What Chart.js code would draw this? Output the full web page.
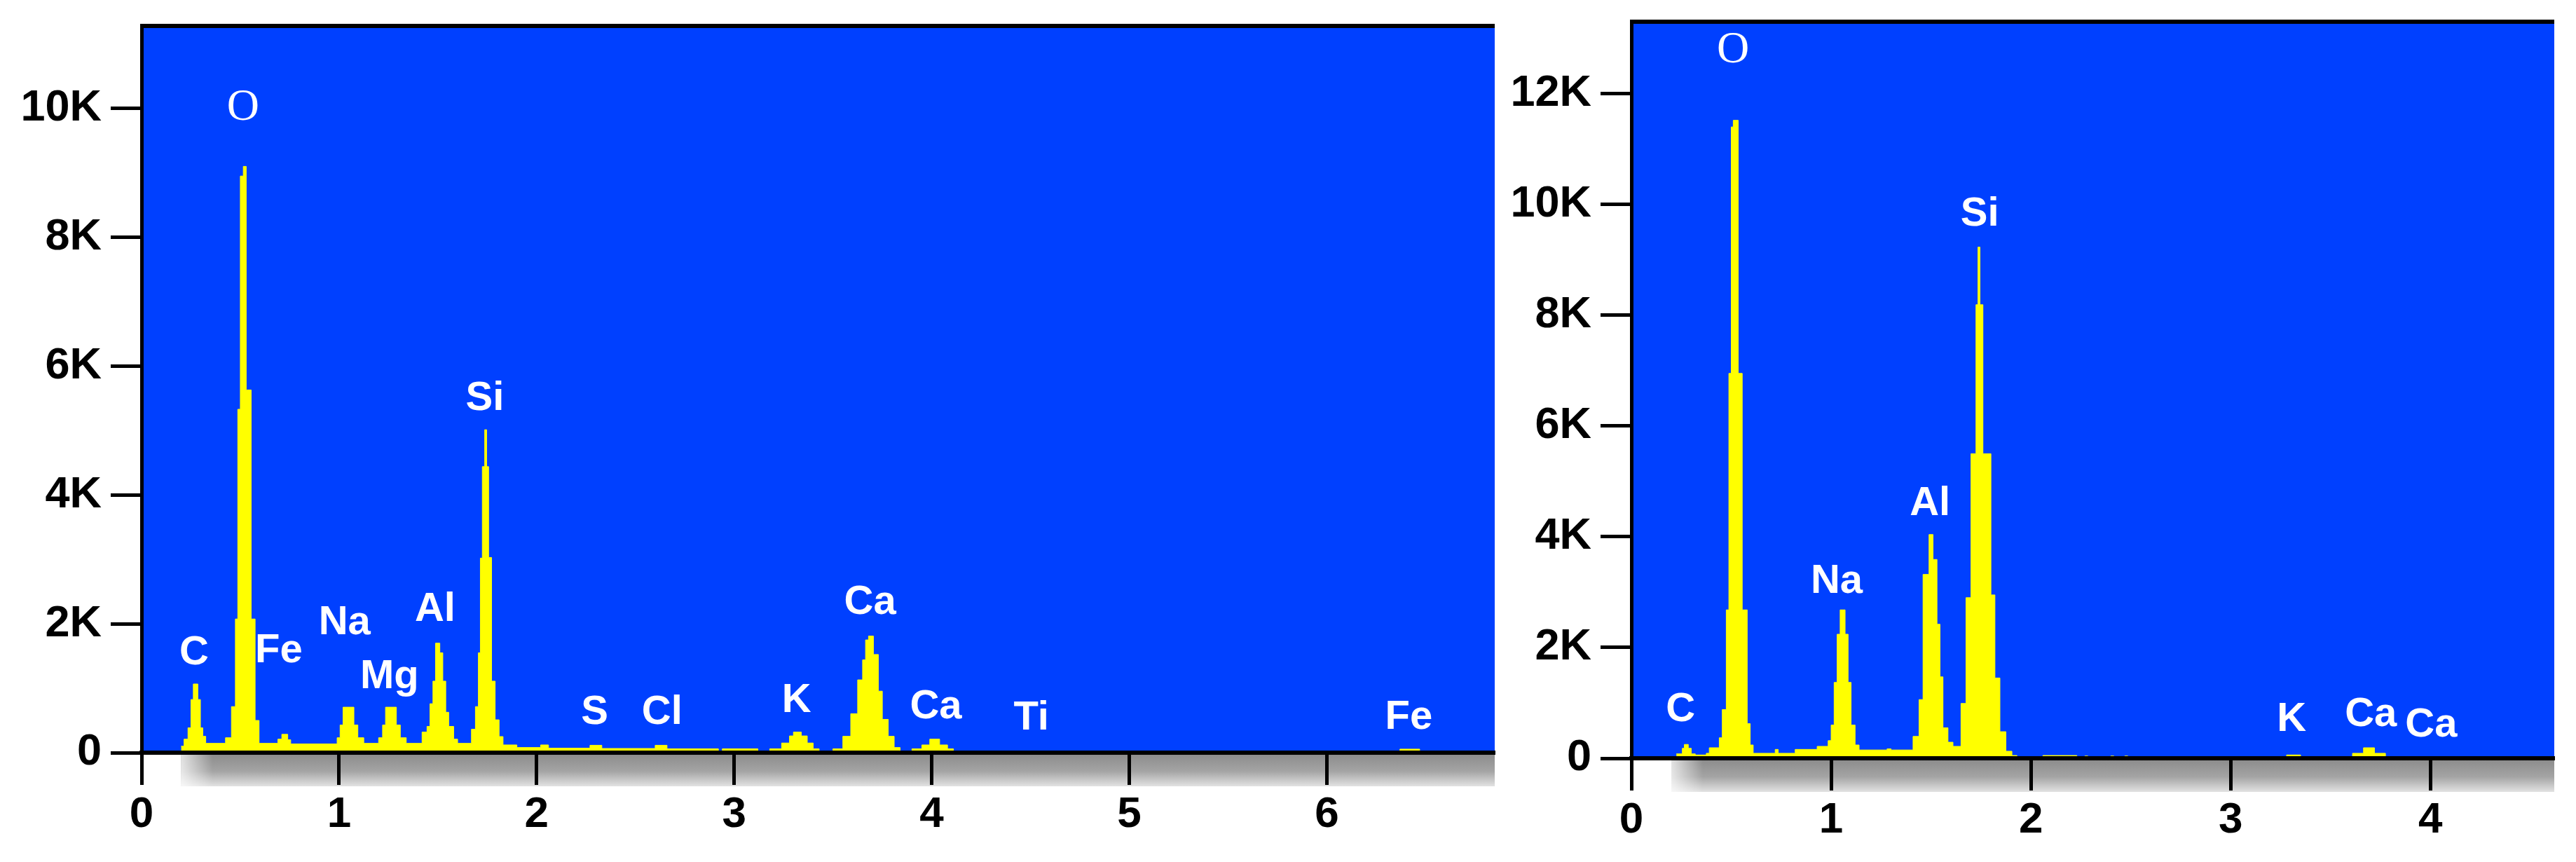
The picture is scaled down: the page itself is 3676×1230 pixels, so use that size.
<!DOCTYPE html>
<html>
<head>
<meta charset="utf-8">
<script src="https://cdn.jsdelivr.net/npm/chart.js@4/dist/chart.umd.min.js"></script>
<style>
  html, body { margin: 0; padding: 0; background: #fff; }
  body { width: 3676px; height: 1230px; position: relative; overflow: hidden; }
  .panel { position: absolute; top: 0; height: 1230px; }
  #left { left: 0; width: 2140px; }
  #right { left: 2140px; width: 1536px; }
</style>
</head>
<body>
<div class="panel" id="left"><canvas id="edsLeft" width="2140" height="1230"></canvas></div>
<div class="panel" id="right"><canvas id="edsRight" width="1536" height="1230"></canvas></div>
<script>
// left spectrum: channel start (keV) and counts
const leftEnergy = [
  0.2, 0.215, 0.235, 0.25, 0.262, 0.285, 0.298, 0.31, 0.325,
  0.425, 0.455, 0.475, 0.487, 0.5, 0.515, 0.53, 0.555, 0.575, 0.595,
  0.69, 0.71, 0.74, 0.755,
  0.99, 1.005, 1.02, 1.075, 1.095, 1.125,
  1.2, 1.22, 1.235, 1.29, 1.31, 1.34,
  1.42, 1.445, 1.46, 1.475, 1.488, 1.51, 1.525, 1.54, 1.555, 1.58, 1.6,
  1.67, 1.69, 1.705, 1.715, 1.725, 1.737, 1.747, 1.757, 1.772, 1.79, 1.81, 1.83, 1.9,
  2.02, 2.06, 2.27, 2.33, 2.6, 2.66, 2.92, 2.94, 3.12,
  3.18, 3.24, 3.28, 3.3, 3.34, 3.37, 3.4, 3.43,
  3.5, 3.55, 3.59, 3.625, 3.65, 3.665, 3.68, 3.705, 3.73, 3.75, 3.78, 3.81, 3.84,
  3.9, 3.95, 3.99, 4.04, 4.08, 4.11,
  6.37, 6.47, 6.85
];
const leftCounts = [
  100, 210, 386, 825, 1066, 825, 386, 254, 145,
  232, 715, 2075, 5330, 8950, 9100, 5630, 2075, 500, 145,
  210, 285, 200, 136,
  232, 430, 706, 430, 232, 145,
  232, 430, 706, 430, 232, 145,
  320, 408, 760, 1110, 1700, 1550, 1110, 627, 408, 210, 145,
  364, 715, 1550, 3020, 4440, 5013, 4440, 3030, 1110, 510, 250, 120, 80,
  120, 70, 115, 65, 115, 60, 0, 60, 0,
  60, 150, 260, 320, 260, 150, 60, 0,
  60, 254, 605, 1130, 1440, 1750, 1810, 1524, 955, 517, 254, 80, 0,
  60, 120, 210, 120, 60, 0,
  55, 0, 0
];
const leftPeakNames = ["O", "C", "Fe", "Na", "Mg", "Al", "Si", "S", "Cl", "K", "Ca", "Ca", "Ti", "Fe"];
const leftPeakKeV = [0.514, 0.266, 0.695, 1.028, 1.255, 1.486, 1.738, 2.294, 2.635, 3.316, 3.688, 4.021, 4.504, 6.415];
const leftPeakCounts = [10000, 1545, 1577, 2012, 1175, 2218, 5492, 620, 620, 805, 2327, 707, 533, 544];
const leftKeVTicks = [0, 1, 2, 3, 4, 5, 6];
const leftCountTicks = [0, 2000, 4000, 6000, 8000, 10000];
const leftMaxKeV = 6.85;
const leftMaxCounts = 11280;

// right spectrum
const rightEnergy = [
  0.225, 0.255, 0.265, 0.285, 0.3, 0.32, 0.375,
  0.39, 0.44, 0.455, 0.475, 0.488, 0.5, 0.51, 0.535, 0.555, 0.58, 0.595, 0.61,
  0.72, 0.735, 0.82, 0.93,
  0.985, 1.0, 1.015, 1.03, 1.045, 1.07, 1.085, 1.1, 1.12, 1.14,
  1.28, 1.3,
  1.41, 1.44, 1.46, 1.49, 1.51, 1.53, 1.545, 1.56, 1.585, 1.61,
  1.65, 1.675, 1.7, 1.725, 1.735, 1.745, 1.76, 1.8, 1.82, 1.845, 1.875, 1.905, 1.93,
  2.06, 2.23, 2.27, 2.285, 2.4, 2.415, 2.47, 2.485,
  3.28, 3.35, 3.61, 3.665, 3.72, 3.775, 4.62
];
const rightCounts = [
  80, 180, 250, 180, 80, 60, 90,
  190, 370, 880, 2680, 6950, 11400, 11520, 6950, 2680, 625, 240, 90,
  160, 90, 160, 215,
  318, 600, 1370, 2240, 2680, 2240, 1370, 600, 240, 150,
  170, 150,
  395, 1060, 3320, 4040, 3590, 2420, 1470, 550, 290, 215,
  990, 2900, 5500, 8190, 9230, 8190, 5500, 2950, 1450, 480, 127, 50, 0,
  50, 0, 40, 0, 40, 0, 40, 0,
  60, 0, 90, 190, 90, 0, 0
];
const rightPeakNames = ["O", "C", "Na", "Al", "Si", "K", "Ca", "Ca"];
const rightPeakKeV = [0.509, 0.246, 1.028, 1.495, 1.744, 3.305, 3.702, 4.004];
const rightPeakCounts = [12785, 873, 3190, 4595, 9823, 696, 785, 595];
const rightKeVTicks = [0, 1, 2, 3, 4];
const rightCountTicks = [0, 2000, 4000, 6000, 8000, 10000, 12000];
const rightMaxKeV = 4.62;
const rightMaxCounts = 13300;

Chart.defaults.font.family = "'Liberation Sans', Arial, sans-serif";

// blue plot area, grey strip under the energy axis, top frame and peak labels
const edsPlugin = {
  id: "eds",
  beforeDraw(chart) {
    const { ctx, chartArea: a, scales } = chart;
    ctx.save();
    ctx.fillStyle = "#0040ff";
    ctx.fillRect(a.left, a.top, a.right - a.left, a.bottom - a.top);
    const x0 = scales.x.getPixelForValue(0.2);
    const g = ctx.createLinearGradient(0, a.bottom, 0, a.bottom + 48);
    g.addColorStop(0, "#8a8a8a");
    g.addColorStop(0.55, "#a4a4a4");
    g.addColorStop(1, "#e2e2e2");
    ctx.fillStyle = g;
    ctx.fillRect(x0, a.bottom, a.right - x0, 48);
    const h = ctx.createLinearGradient(x0, 0, x0 + 45, 0);
    h.addColorStop(0, "rgba(255,255,255,0.75)");
    h.addColorStop(1, "rgba(255,255,255,0)");
    ctx.fillStyle = h;
    ctx.fillRect(x0, a.bottom, 45, 48);
    ctx.restore();
  },
  afterDatasetsDraw(chart, args, opts) {
    const { ctx, chartArea: a, scales } = chart;
    ctx.save();
    ctx.strokeStyle = "#000";
    ctx.lineWidth = 6;
    ctx.beginPath();
    ctx.moveTo(a.left - 2, a.top);
    ctx.lineTo(a.right, a.top);
    ctx.stroke();
    ctx.fillStyle = "#fff";
    ctx.textAlign = "center";
    ctx.textBaseline = "middle";
    opts.names.forEach((name, i) => {
      ctx.font = name === "O" ? "64px 'Liberation Serif', serif" : "bold 58px 'Liberation Sans', Arial, sans-serif";
      ctx.fillText(name, scales.x.getPixelForValue(opts.keV[i]), scales.y.getPixelForValue(opts.counts[i]));
    });
    ctx.restore();
  },
};

function spectrumChart(id, energy, counts, maxKeV, maxCounts, xTicks, yTicks, peaks, box) {
  return new Chart(document.getElementById(id), {
    type: "line",
    data: {
      datasets: [
        {
          data: energy.map((e, i) => ({ x: e, y: counts[i] })),
          stepped: "before",
          fill: "origin",
          backgroundColor: "#ffff00",
          borderColor: "#ffff00",
          borderWidth: 1,
          pointRadius: 0,
        },
      ],
    },
    options: {
      responsive: false,
      animation: false,
      layout: { padding: { top: box.top, right: box.right, left: 0, bottom: 0 } },
      plugins: {
        legend: { display: false },
        tooltip: { enabled: false },
        eds: peaks,
      },
      scales: {
        x: {
          type: "linear",
          min: 0,
          max: maxKeV,
          afterFit: (s) => {
            s.height = box.xHeight;
            s.paddingLeft = 0;
            s.paddingRight = 0;
          },
          afterBuildTicks: (s) => { s.ticks = xTicks.map((v) => ({ value: v })); },
          grid: { drawOnChartArea: false, tickLength: 46, tickWidth: 5, tickColor: "#000" },
          border: { display: true, color: "#000", width: 6, z: 1 },
          ticks: {
            padding: 6,
            color: "#000",
            font: { size: 62, weight: "bold" },
            maxRotation: 0,
            autoSkip: false,
          },
        },
        y: {
          min: 0,
          max: maxCounts,
          afterFit: (s) => {
            s.width = box.yWidth;
            s.paddingTop = 0;
            s.paddingBottom = 0;
          },
          afterBuildTicks: (s) => { s.ticks = yTicks.map((v) => ({ value: v })); },
          grid: { drawOnChartArea: false, tickLength: 44, tickWidth: 5, tickColor: "#000" },
          border: { display: true, color: "#000", width: 5, z: 1 },
          ticks: {
            padding: 13,
            color: "#000",
            font: { size: 63, weight: "bold" },
            autoSkip: false,
            callback: (v) => (v === 0 ? "0" : v / 1000 + "K"),
          },
        },
      },
    },
    plugins: [edsPlugin],
  });
}

spectrumChart("edsLeft", leftEnergy, leftCounts, leftMaxKeV, leftMaxCounts, leftKeVTicks, leftCountTicks,
  { names: leftPeakNames, keV: leftPeakKeV, counts: leftPeakCounts },
  { top: 37, right: 7, yWidth: 202, xHeight: 156 });

spectrumChart("edsRight", rightEnergy, rightCounts, rightMaxKeV, rightMaxCounts, rightKeVTicks, rightCountTicks,
  { names: rightPeakNames, keV: rightPeakKeV, counts: rightPeakCounts },
  { top: 31, right: 31, yWidth: 188, xHeight: 148 });
</script>
</body>
</html>
